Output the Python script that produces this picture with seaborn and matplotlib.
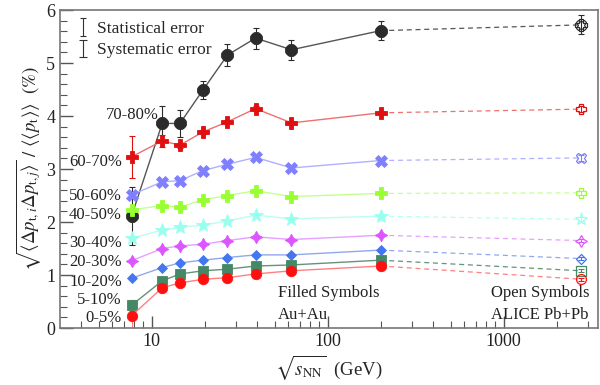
import matplotlib
matplotlib.use("Agg")
import matplotlib.pyplot as plt
import matplotlib.ticker as mticker
import numpy as np
import pandas as pd
import seaborn as sns

# Au+Au beam energies (GeV) and ALICE Pb+Pb point
energies = [7.7, 11.5, 14.5, 19.6, 27, 39, 62.4, 200]
alice_energy = 2760

centralities = ["70-80%", "60-70%", "50-60%", "40-50%", "30-40%",
                "20-30%", "10-20%", "5-10%", "0-5%"]

# filled symbols (Au+Au), in %
val_7080 = [2.11, 3.86, 3.86, 4.49, 5.15, 5.47, 5.25, 5.61]
val_6070 = [3.23, 3.53, 3.45, 3.70, 3.89, 4.14, 3.87, 4.06]
val_5060 = [2.51, 2.76, 2.78, 2.97, 3.09, 3.22, 3.02, 3.16]
val_4050 = [2.23, 2.31, 2.28, 2.42, 2.50, 2.59, 2.48, 2.54]
val_3040 = [1.69, 1.85, 1.90, 1.94, 2.02, 2.13, 2.06, 2.11]
val_2030 = [1.27, 1.50, 1.55, 1.58, 1.65, 1.72, 1.67, 1.75]
val_1020 = [0.94, 1.14, 1.23, 1.28, 1.33, 1.38, 1.38, 1.47]
val_0510 = [0.43, 0.89, 1.02, 1.08, 1.11, 1.17, 1.19, 1.28]
val_0005 = [0.23, 0.76, 0.85, 0.92, 0.95, 1.02, 1.08, 1.17]

err_7080 = [0.55, 0.33, 0.25, 0.17, 0.20, 0.20, 0.19, 0.18]
err_6070 = [0.40, 0.12, 0.05, 0.04, 0.04, 0.05, 0.04, 0.04]
err_5060 = [0.06, 0.03, 0.03, 0.03, 0.03, 0.03, 0.03, 0.03]
err_4050 = [0.05, 0.03, 0.03, 0.03, 0.03, 0.03, 0.03, 0.03]
err_3040 = [0.05, 0.03, 0.03, 0.03, 0.03, 0.03, 0.03, 0.03]
err_2030 = [0.04, 0.03, 0.03, 0.03, 0.03, 0.03, 0.03, 0.03]
err_1020 = [0.04, 0.03, 0.03, 0.03, 0.03, 0.03, 0.03, 0.03]
err_0510 = [0.10, 0.03, 0.03, 0.03, 0.03, 0.03, 0.03, 0.03]
err_0005 = [0.30, 0.03, 0.03, 0.03, 0.03, 0.03, 0.03, 0.03]

# open symbols (ALICE Pb+Pb 2.76 TeV)
alice_vals = [5.72, 4.13, 3.21, 2.55, 2.05, 1.65, 1.31, 1.08, 0.92]
alice_errs = [0.18, 0.05, 0.05, 0.04, 0.04, 0.03, 0.03, 0.03, 0.03]

marker_colors = ["#2b2b2b", "#e01010", "#8080ff", "#99ff33", "#99ffee",
                 "#dd55ff", "#4477ee", "#448866", "#ff1010"]
line_colors = ["#555555", "#ee7070", "#b0b0ff", "#c4ff90", "#b8fff0",
               "#e6a0ff", "#90a8f0", "#66927a", "#ff8080"]
markers = ["P", "P", "X", "P", "*", (4, 1, 0), "D", "s", "o"]
msizes = [8.5, 8, 8, 8, 10, 9, 5.5, 7, 7.5]

label_pos = [(0.183, 4.02), (0.115, 3.13), (0.115, 2.49), (0.115, 2.13),
             (0.115, 1.60), (0.115, 1.25), (0.115, 0.87), (0.115, 0.52),
             (0.115, 0.19)]

all_vals = [val_7080, val_6070, val_5060, val_4050, val_3040,
            val_2030, val_1020, val_0510, val_0005]
all_errs = [err_7080, err_6070, err_5060, err_4050, err_3040,
            err_2030, err_1020, err_0510, err_0005]

rows = []
for cent, vals, errs in zip(centralities, all_vals, all_errs):
    for e, v, s in zip(energies, vals, errs):
        rows.append({"centrality": cent, "energy": e, "value": v, "err": s})
df = pd.DataFrame(rows)

sns.set_theme(style="ticks")
plt.rcParams["font.family"] = ["Liberation Serif", "DejaVu Serif"]
plt.rcParams["mathtext.fontset"] = "stix"

fig = plt.figure(figsize=(6, 3.85), dpi=100)
ax = fig.add_axes([0.1, 0.148, 0.897, 0.826])

for i, cent in enumerate(centralities):
    sub = df[df["centrality"] == cent]
    mc, lc = marker_colors[i], line_colors[i]
    # dashed connection to ALICE point
    ax.plot([energies[-1], alice_energy], [sub["value"].iloc[-1], alice_vals[i]],
            ls=(0, (4, 3)), color=lc, lw=0.9, zorder=1)
    ax.errorbar(sub["energy"], sub["value"], yerr=sub["err"], fmt="none",
                ecolor=lc if i > 1 else mc, elinewidth=0.8, capsize=2.5,
                capthick=0.8, zorder=2)
    sns.lineplot(data=sub, x="energy", y="value", ax=ax, color=lc, lw=1.0,
                 marker=markers[i], markersize=msizes[i], markerfacecolor=mc,
                 markeredgecolor=mc, markeredgewidth=0.6, zorder=3,
                 errorbar=None, sort=False)
    if i == 0:
        # black 70-80% symbol is a blocky cross: overlay an X on the plus
        ax.plot(sub["energy"], sub["value"], ls="none", marker="X", markersize=8,
                markerfacecolor=mc, markeredgecolor="none", zorder=3)
    ax.errorbar([alice_energy], [alice_vals[i]], yerr=[alice_errs[i]], fmt="none",
                ecolor=mc, elinewidth=0.8, capsize=2.5, capthick=0.8, zorder=2)
    ax.plot([alice_energy], [alice_vals[i]], ls="none", marker=markers[i],
            markersize=msizes[i] * 0.95, markerfacecolor="none",
            markeredgecolor=mc, markeredgewidth=0.9, zorder=3)
    if i == 0:
        ax.plot([alice_energy], [alice_vals[i]], ls="none", marker="X",
                markersize=msizes[i] * 0.9, markerfacecolor="none",
                markeredgecolor=mc, markeredgewidth=0.8, zorder=3)
    lx, ly = label_pos[i]
    ax.text(lx, ly, cent, transform=ax.get_yaxis_transform(), ha="right",
            va="center", fontsize=12, color="#222222")

# legend for the error types
h_stat = ax.errorbar([np.nan], [np.nan], yerr=[1], fmt="none", ecolor="#333333",
                     elinewidth=0.8, capsize=2, capthick=0.8)
h_sys = ax.errorbar([np.nan], [np.nan], yerr=[1], fmt="none", ecolor="#333333",
                    elinewidth=0.8, capsize=3, capthick=0.8)
ax.legend([h_stat, h_sys], ["Statistical error", "Systematic error"],
          loc="upper left", bbox_to_anchor=(0.0, 1.015), frameon=False,
          fontsize=12.5, handlelength=0.8, handletextpad=0.45, labelspacing=0.3)

ax.text(0.405, 0.075, "Filled Symbols\nAu+Au", transform=ax.transAxes,
        ha="left", va="center", fontsize=12, linespacing=1.45, color="#222222")
ax.text(0.983, 0.075, "Open Symbols\nALICE Pb+Pb", transform=ax.transAxes,
        ha="right", va="center", fontsize=12, linespacing=1.45, color="#222222",
        multialignment="center")

ax.set_xscale("log")
ax.set_xlim(3.02, 3450)
ax.set_ylim(0, 6)
ax.xaxis.set_major_locator(mticker.FixedLocator([10, 100, 1000]))
ax.xaxis.set_major_formatter(mticker.FixedFormatter(["10", "100", "1000"]))
ax.xaxis.set_minor_locator(mticker.LogLocator(base=10, subs=np.arange(2, 10)))
ax.xaxis.set_minor_formatter(mticker.NullFormatter())
ax.yaxis.set_major_locator(mticker.MultipleLocator(1))
ax.yaxis.set_minor_locator(mticker.MultipleLocator(0.2))
ax.tick_params(which="both", direction="in", colors="#555555", labelcolor="#222222",
               labelsize=13, top=False, right=False)
ax.tick_params(which="major", length=9, width=1.0)
ax.tick_params(which="minor", length=5, width=0.8)
for sp in ax.spines.values():
    sp.set_color("#777777")
    sp.set_linewidth(1.2)

ax.set_xlabel(r"$\sqrt{s_{\mathrm{NN}}}$  (GeV)", fontsize=13.5, labelpad=2)
ax.set_ylabel(r"$\sqrt{\langle\Delta p_{\mathrm{t},i}\Delta p_{\mathrm{t},j}\rangle}\ /\ \langle\langle p_{\mathrm{t}}\rangle\rangle\ \ (\%)$",
              fontsize=13.5, labelpad=2)

fig.savefig("out.png", dpi=100)
